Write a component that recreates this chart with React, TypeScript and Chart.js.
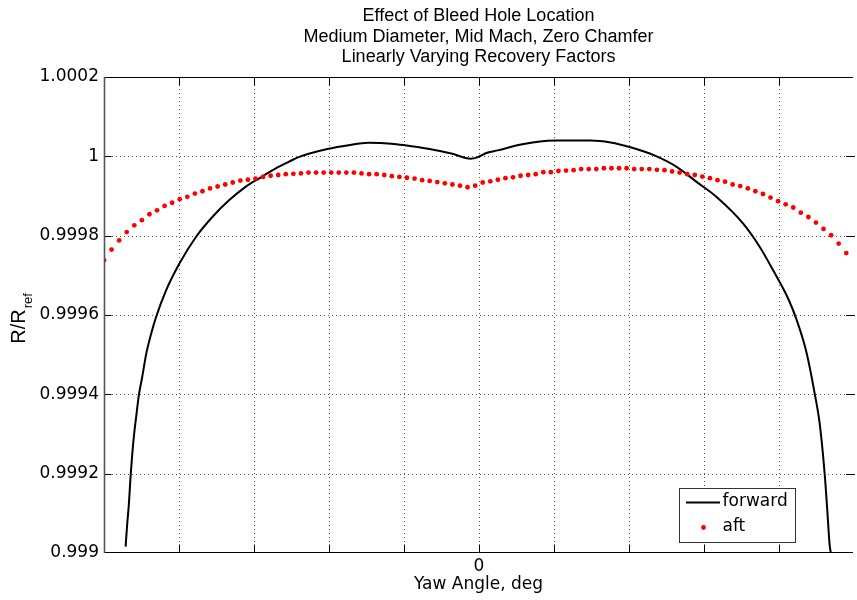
import React, { useEffect, useRef } from "react";
import { Chart, registerables } from "chart.js";

Chart.register(...registerables);

const titleLines = [
  "Effect of Bleed Hole Location",
  "Medium Diameter, Mid Mach, Zero Chamfer",
  "Linearly Varying Recovery Factors",
];
const xLabel = "Yaw Angle, deg";
const yLabelMain = "R/R";
const yLabelSub = "ref";

const xTicks = [-50, -40, -30, -20, -10, 0, 10, 20, 30, 40];
const xTickLabels = ["", "", "", "", "", "0", "", "", "", ""];
const yTicks = [0.999, 0.9992, 0.9994, 0.9996, 0.9998, 1, 1.0002];
const yTickLabels = ["0.999", "0.9992", "0.9994", "0.9996", "0.9998", "1", "1.0002"];

const legendLabels = ["forward", "aft"];

// forward: solid black line
const forwardX = [
  -47.12, -46.9, -46.68, -46.43, -46.19, -45.93, -45.66, -45.36, -44.91, -44.37,
  -43.71, -43.05, -41.72, -39.96, -37.76, -35.55, -33.33, -31.12, -29.35, -27.14,
  -25.37, -24.04, -20.05, -17.4, -14.74, -11.65, -9.87, -6.77, -3.68, -1.1,
  -0.13, 1.1, 2.52, 5.62, 10.05, 14.91, 17.57, 20.22, 23.33, 26.43,
  29.08, 31.74, 35.28, 37.49, 39.27, 41.26, 42.36, 43.69, 44.79, 45.46,
  46.12, 46.44, 46.79, 46.95,
];
const forwardY = [
  0.999016, 0.999074, 0.999124, 0.9992, 0.999259, 0.999309, 0.999351, 0.999397, 0.999443, 0.999502,
  0.999553, 0.999595, 0.999662, 0.999729, 0.999796, 0.999847, 0.999889, 0.999923, 0.999944, 0.999969,
  0.999986, 0.999998, 1.000019, 1.000028, 1.000034, 1.000032, 1.000028, 1.000019, 1.000007, 0.999994,
  0.999998, 1.000009, 1.000015, 1.00003, 1.00004, 1.00004, 1.000035, 1.000023, 1.000003, 0.999973,
  0.999935, 0.999897, 0.99983, 0.999771, 0.999712, 0.999641, 0.999589, 0.999506, 0.999402, 0.999326,
  0.9992, 0.999116, 0.999019, 0.999,
];

// aft: red dots on an even yaw-angle grid
const aftStart = -50;
const aftEnd = 49;
const aftY = [
  0.999738, 0.999765, 0.999788, 0.999809, 0.999826, 0.999839, 0.999854, 0.999864, 0.999875, 0.999883,
  0.999892, 0.999898, 0.999906, 0.999912, 0.999919, 0.999924, 0.999929, 0.999934, 0.999939, 0.999941,
  0.999944, 0.999948, 0.999951, 0.999953, 0.999955, 0.999956, 0.999957, 0.999959, 0.999959, 0.999959,
  0.999959, 0.999959, 0.999959, 0.999959, 0.999957, 0.999955, 0.999955, 0.999953, 0.99995, 0.999948,
  0.999946, 0.999944, 0.99994, 0.999938, 0.999935, 0.999932, 0.999929, 0.999926, 0.999922, 0.999926,
  0.999934, 0.999937, 0.999941, 0.999945, 0.999947, 0.999951, 0.999953, 0.999955, 0.99996, 0.99996,
  0.999963, 0.999964, 0.999965, 0.999968, 0.999968, 0.999968, 0.99997, 0.99997, 0.99997, 0.99997,
  0.999968, 0.999968, 0.999968, 0.999966, 0.999965, 0.999962, 0.999959, 0.999955, 0.999953, 0.999949,
  0.999945, 0.99994, 0.999936, 0.999929, 0.999925, 0.999919, 0.999912, 0.999905, 0.999896, 0.999887,
  0.999879, 0.999871, 0.999858, 0.999847, 0.999833, 0.999817, 0.999801, 0.99978, 0.999756,
];

const FONT = "'DejaVu Sans', Verdana, sans-serif";
const ARIAL = "'Liberation Sans', Arial, Helvetica, sans-serif";
const TICK_SIZE = 17;

const decorPlugin = {
  id: "decor",
  beforeDatasetsDraw(chart: any) {
    const { ctx, chartArea: a, scales } = chart;
    ctx.save();
    ctx.strokeStyle = "rgba(0,0,0,0.65)";
    ctx.lineWidth = 1;
    ctx.setLineDash([1, 3]);
    for (const t of xTicks) {
      const px = Math.round(scales.x.getPixelForValue(t)) + 0.5;
      if (px <= a.left + 2 || px >= a.right - 1) continue;
      ctx.beginPath();
      ctx.moveTo(px, a.top);
      ctx.lineTo(px, a.bottom);
      ctx.stroke();
    }
    for (const t of yTicks) {
      const py = Math.round(scales.y.getPixelForValue(t)) + 0.5;
      if (py <= a.top + 2 || py >= a.bottom - 2) continue;
      ctx.beginPath();
      ctx.moveTo(a.left, py);
      ctx.lineTo(a.right, py);
      ctx.stroke();
    }
    ctx.restore();
  },
  afterDatasetsDraw(chart: any) {
    const { ctx, chartArea: a, scales } = chart;
    ctx.save();
    ctx.strokeStyle = "#000";
    ctx.lineWidth = 1;
    ctx.setLineDash([]);
    const L = Math.round(a.left) + 0.5;
    const T = Math.round(a.top) + 0.5;
    const B = Math.round(a.bottom) - 0.5;
    const R = a.right + 2;
    ctx.beginPath();
    ctx.moveTo(L, T);
    ctx.lineTo(a.right, T);
    ctx.moveTo(L, B);
    ctx.lineTo(a.right, B);
    for (const t of xTicks) {
      const px = Math.round(scales.x.getPixelForValue(t)) + 0.5;
      if (px <= a.left + 2) continue;
      ctx.moveTo(px, B);
      ctx.lineTo(px, B - 8);
      ctx.moveTo(px, T);
      ctx.lineTo(px, T + 8);
    }
    for (const t of yTicks) {
      const py = Math.round(scales.y.getPixelForValue(t)) + 0.5;
      if (py <= a.top + 2 || py >= a.bottom - 2) continue;
      ctx.moveTo(L, py);
      ctx.lineTo(L + 7, py);
      ctx.moveTo(R, py);
      ctx.lineTo(R - 9, py);
    }
    ctx.stroke();
    ctx.strokeStyle = "#555";
    ctx.lineWidth = 1.6;
    ctx.beginPath();
    ctx.moveTo(a.left + 0.5, a.top);
    ctx.lineTo(a.left + 0.5, a.bottom);
    ctx.stroke();
    ctx.restore();
  },
  afterDraw(chart: any) {
    const { ctx, chartArea: a } = chart;
    const cx = (a.left + a.right) / 2;
    ctx.save();
    ctx.fillStyle = "#000";
    // title
    ctx.font = `18px ${ARIAL}`;
    ctx.textAlign = "center";
    ctx.textBaseline = "alphabetic";
    const baselines = [21, 41.5, 62];
    titleLines.forEach((s, i) => ctx.fillText(s, cx, baselines[i]));
    // x label
    ctx.font = `${TICK_SIZE}px ${FONT}`;
    ctx.textBaseline = "middle";
    ctx.fillText(xLabel, cx, 585);
    // y label, rotated, with subscript
    ctx.save();
    ctx.translate(25, 319);
    ctx.rotate(-Math.PI / 2);
    ctx.textAlign = "left";
    ctx.textBaseline = "alphabetic";
    ctx.font = `20px ${ARIAL}`;
    const wMain = ctx.measureText(yLabelMain).width;
    ctx.font = `13px ${ARIAL}`;
    const wSub = ctx.measureText(yLabelSub).width;
    const x0 = -(wMain + wSub) / 2;
    ctx.font = `20px ${ARIAL}`;
    ctx.fillText(yLabelMain, x0, 0);
    ctx.font = `13px ${ARIAL}`;
    ctx.fillText(yLabelSub, x0 + wMain + 1, 7);
    ctx.restore();
    // legend
    const lx = 679.5, ly = 488.5, lw = 116, lh = 54;
    ctx.fillStyle = "#fff";
    ctx.fillRect(lx, ly, lw, lh);
    ctx.strokeStyle = "#333";
    ctx.lineWidth = 1;
    ctx.strokeRect(lx, ly, lw, lh);
    ctx.strokeStyle = "#000";
    ctx.lineWidth = 2;
    ctx.beginPath();
    ctx.moveTo(686, 502.5);
    ctx.lineTo(720, 502.5);
    ctx.stroke();
    ctx.fillStyle = "#ff0000";
    ctx.beginPath();
    ctx.arc(703.5, 527.5, 2.4, 0, Math.PI * 2);
    ctx.fill();
    ctx.fillStyle = "#000";
    ctx.font = `${TICK_SIZE}px ${FONT}`;
    ctx.textAlign = "left";
    ctx.textBaseline = "middle";
    ctx.fillText(legendLabels[0], 722.5, 502);
    ctx.fillText(legendLabels[1], 722.5, 527);
    ctx.restore();
  },
};

export default function App() {
  const ref = useRef<HTMLCanvasElement | null>(null);
  useEffect(() => {
    if (!ref.current) return;
    const aftX = aftY.map((_, i) => aftStart + (i * (aftEnd - aftStart)) / (aftY.length - 1));
    const chart = new Chart(ref.current, {
      type: "scatter",
      data: {
        datasets: [
          {
            label: legendLabels[0],
            data: forwardX.map((x, i) => ({ x, y: forwardY[i] })),
            showLine: true,
            borderColor: "#000",
            borderWidth: 2,
            pointRadius: 0,
            cubicInterpolationMode: "monotone",
            order: 2,
          } as any,
          {
            label: legendLabels[1],
            data: aftX.map((x, i) => ({ x, y: aftY[i] })),
            showLine: false,
            pointRadius: 2.4,
            pointBorderWidth: 0,
            pointBackgroundColor: "#ff0000",
            pointBorderColor: "#ff0000",
            pointStyle: "circle",
            order: 1,
          } as any,
        ],
      },
      options: {
        responsive: false,
        devicePixelRatio: 1,
        animation: false,
        events: [],
        layout: { padding: { top: 77, left: 0, right: 0, bottom: 0 } },
        plugins: {
          legend: { display: false },
          title: { display: false },
          tooltip: { enabled: false },
        },
        scales: {
          x: {
            type: "linear",
            min: -50,
            max: 49.9,
            afterBuildTicks: (scale: any) => {
              scale.ticks = xTicks.map((value) => ({ value }));
            },
            afterFit: (scale: any) => {
              scale.height = 47;
            },
            grid: { display: false, drawTicks: false, tickLength: 0 },
            border: { display: false },
            ticks: {
              autoSkip: false,
              maxRotation: 0,
              padding: 3,
              color: "#000",
              font: { family: FONT, size: TICK_SIZE },
              callback: (v: any) => {
                const i = xTicks.findIndex((t) => Math.abs(t - Number(v)) < 1e-9);
                return i >= 0 ? xTickLabels[i] : "";
              },
            },
          },
          y: {
            type: "linear",
            min: 0.999,
            max: 1.0002,
            afterBuildTicks: (scale: any) => {
              scale.ticks = yTicks.map((value) => ({ value }));
            },
            afterFit: (scale: any) => {
              scale.width = 104;
            },
            grid: { display: false, drawTicks: false, tickLength: 0 },
            border: { display: false },
            ticks: {
              autoSkip: false,
              padding: 5,
              color: "#000",
              font: { family: FONT, size: TICK_SIZE },
              callback: (v: any) => {
                const i = yTicks.findIndex((t) => Math.abs(t - Number(v)) < 1e-9);
                return i >= 0 ? yTickLabels[i] : "";
              },
            },
          },
        },
      },
      plugins: [decorPlugin],
    });
    return () => chart.destroy();
  }, []);
  return (
    <div style={{ position: "absolute", left: 0, top: 0, width: 857, height: 600, background: "#fff" }}>
      <canvas ref={ref} width={857} height={600} style={{ display: "block" }} />
    </div>
  );
}
